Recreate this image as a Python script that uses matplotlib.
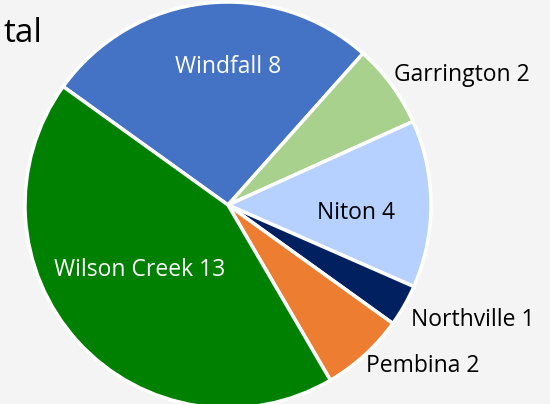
import matplotlib
matplotlib.use("Agg")
import matplotlib.pyplot as plt

labels = ["Windfall", "Garrington", "Niton", "Northville", "Pembina", "Wilson Creek"]
values = [8, 2, 4, 1, 2, 13]
colors = ["#4472C4", "#A9D18E", "#B6D1FF", "#002060", "#ED7D31", "#008000"]
text_colors = ["white", "black", "black", "black", "black", "white"]
label_pos = [(0.0, 0.68), (1.153, 0.64), (0.63, -0.04), (1.207, -0.567), (0.96, -0.793), (-0.433, -0.32)]

plt.rcParams['font.family'] = ['Open Sans', 'DejaVu Sans']
fig = plt.figure(figsize=(5.5, 4.04), dpi=100)
fig.patch.set_facecolor("#f4f4f4")
ax = fig.add_axes([25/550, (404-205-203)/404, 406/550, 406/404])
ax.set_facecolor("none")
ax.pie(values, colors=colors, startangle=144.3, counterclock=False, radius=1.0,
       wedgeprops=dict(edgecolor="white", linewidth=2.5))
for lab, v, tc, (x, y) in zip(labels, values, text_colors, label_pos):
    ax.text(x, y, f"{lab} {v}", color=tc, ha="center", va="center", fontsize=16.5, clip_on=False)
ax.set_xlim(-1, 1)
ax.set_ylim(-1, 1)
ax.set_aspect("equal")
ax.axis("off")
fig.text(42/550, 1-33/404, "tal", ha="right", va="center", fontsize=24, color="black")
fig.savefig("out.png", dpi=100, facecolor=fig.get_facecolor())
